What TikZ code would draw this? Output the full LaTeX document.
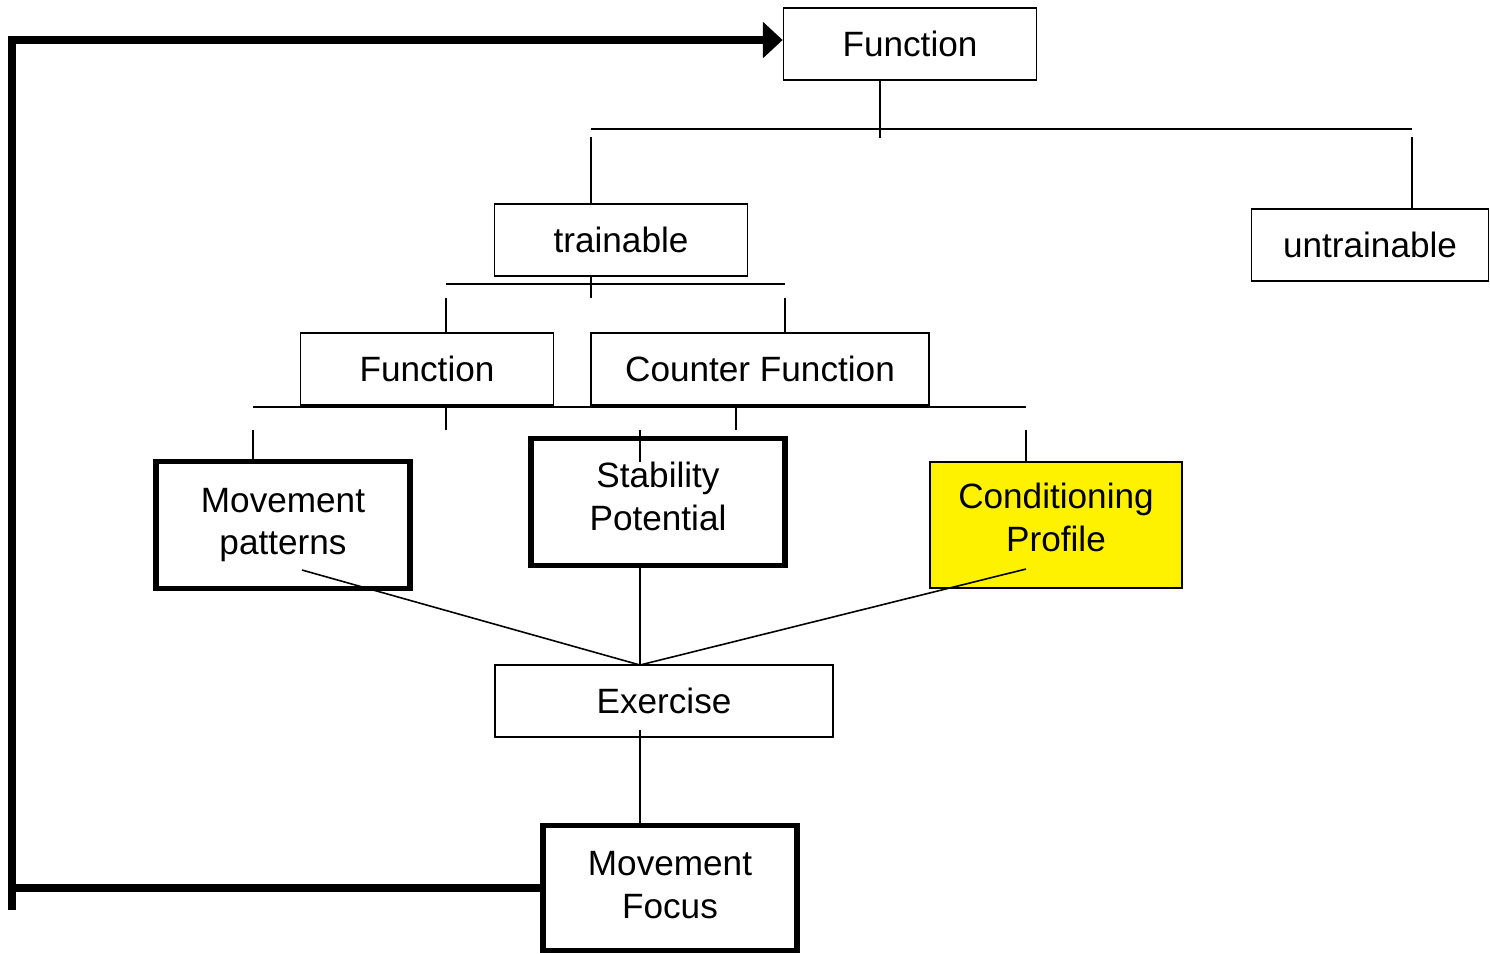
\documentclass[tikz,border=0pt]{standalone}
\usepackage{fontspec}
\setmainfont{Liberation Sans}
\usetikzlibrary{arrows.meta,positioning,calc}

\begin{document}
\begin{tikzpicture}[x=0.01cm,y=-0.01cm,
  every node/.style={align=center,font=\fontsize{10}{12.2}\selectfont},
  box/.style={draw,line width=0.45pt,inner sep=0pt,minimum width=2.53cm,minimum height=0.72cm},
  bigbox/.style={draw,line width=1.5pt,inner sep=0pt,minimum width=2.54cm,minimum height=1.27cm},
  hilite/.style={box,fill=yellow,minimum width=2.52cm,minimum height=1.26cm},
  link/.style={line width=0.45pt},
  bar/.style={line width=0.65pt},
  feedback/.style={line width=2.1pt}]

    \useasboundingbox (0,0) rectangle (1490,953);

    \node[box](fn) at (910,44){Function};
    \node[box](train) at (621,240){trainable};
    \node[box,minimum width=2.37cm](untrain) at (1370,245){untrainable};
    \node[box](fnb) at (427,369){Function};
    \node[box,minimum width=3.38cm](counter) at (760,369){Counter Function};
    \node[bigbox](patterns) at (283,525){Movement\\patterns};
    \node[bigbox,text depth=3.4pt](stability) at (658,502){Stability\\Potential};
    \node[hilite,text depth=4.5pt](cond) at (1056,525){Conditioning\\Profile};
    \node[box,minimum width=3.38cm](exercise) at (664,701){Exercise};
    \node[bigbox,minimum height=1.25cm,text depth=2pt](focus) at (670,888){Movement\\Focus};

    % first split
    \coordinate (apex) at (640,665);
    \draw[link] ($(fn.south)+(-30,0)$) -- ++(0,57);
    \draw[bar] (591,129) -- (1412,129);
    \draw[link] (591,137) -- (train.north -| 591,0);
    \draw[link] (1412,137) -- (untrain.north -| 1412,0);

    % trainable split
    \draw[link] (446,284) -- (785,284);
    \draw[link] (train.south -| 591,0) -- (591,298);
    \draw[link] (446,298) -- (fnb.north -| 446,0);
    \draw[link] (785,298) -- (counter.north -| 785,0);

    % function / counter function split
    \draw[link] (253,407) -- (1026,407);
    \draw[link] (fnb.south -| 446,0) -- (446,430);
    \draw[link] (counter.south -| 736,0) -- (736,430);
    \draw[link] (253,430) -- (patterns.north -| 253,0);
    \draw[link] (640,430) -- (640,462);
    \draw[link] (1026,430) -- (cond.north -| 1026,0);

    % into exercise
    \draw[link] (302,570) -- (apex);
    \draw[link] (stability.south -| apex) -- (apex);
    \draw[link] (1026,569) -- (apex);
    \draw[link] (640,730) -- (focus.north -| 640,0);

    % feedback
    \coordinate (tail) at (12,910);
    \coordinate (entry) at ($(fn.west)+(0,-4)$);
    \draw[feedback] (focus.west) -- (focus.west -| tail);
    \draw[feedback,-{Triangle[length=5.6pt,width=10pt]}] (tail) |- (entry);
\end{tikzpicture}
\end{document}
